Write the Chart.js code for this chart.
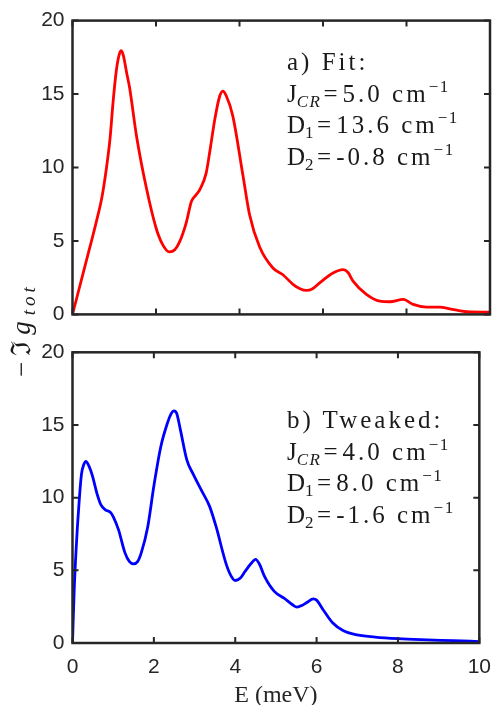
<!DOCTYPE html>
<html>
<head>
<meta charset="utf-8">
<script src="https://cdn.jsdelivr.net/npm/chart.js@4.4.1/dist/chart.umd.min.js"></script>
<style>
  body { margin: 0; background: #fff; }
  #wrap { position: relative; width: 503px; height: 705px; overflow: hidden; }
  canvas { position: absolute; left: 0; }
  #topChart { top: 0; }
  #botChart { top: 330px; }
  .note {
    position: absolute; left: 287px;
    font-family: "Liberation Serif", "Times New Roman", serif;
    font-size: 25px; line-height: 31.7px; letter-spacing: 3px;
    color: #1a1a1a; white-space: nowrap;
  }
  .note .t { letter-spacing: 0; }
  .note sub, .note sup { font-size: 17px; line-height: 0; letter-spacing: 1.5px; }
  .note sub { vertical-align: -5px; }
  .note sup { vertical-align: 10px; }
  .note .eq { margin: 0 2px; }
  #ylab {
    position: absolute; left: 7px; top: 377px;
    transform-origin: 0 0; transform: rotate(-90deg);
    font-family: "Liberation Serif", "Times New Roman", serif;
    font-size: 27px; line-height: 27px; letter-spacing: 6px;
    color: #1a1a1a; white-space: nowrap;
  }
  #ylab .im { font-family: "DejaVu Serif", serif; }
  #ylab sub { font-size: 19px; line-height: 0; vertical-align: -5px; letter-spacing: 4px; }
</style>
</head>
<body>
<div id="wrap">
  <canvas id="topChart" width="503" height="335"></canvas>
  <canvas id="botChart" width="503" height="375"></canvas>

  <div class="note" style="top:46px">
    a) Fit:<br>
    <span class="t">J</span><sub><i>CR</i></sub><span class="eq">=</span>5.0 cm<sup>−1</sup><br>
    <span class="t">D</span><sub>1</sub><span class="eq">=</span>13.6 cm<sup>−1</sup><br>
    <span class="t">D</span><sub>2</sub><span class="eq">=</span>-0.8 cm<sup>−1</sup>
  </div>
  <div class="note" style="top:404px">
    b) Tweaked:<br>
    <span class="t">J</span><sub><i>CR</i></sub><span class="eq">=</span>4.0 cm<sup>−1</sup><br>
    <span class="t">D</span><sub>1</sub><span class="eq">=</span>8.0 cm<sup>−1</sup><br>
    <span class="t">D</span><sub>2</sub><span class="eq">=</span>-1.6 cm<sup>−1</sup>
  </div>
  <div id="ylab">−<span class="im">ℑ</span><i>g</i><sub><i>tot</i></sub></div>
</div>

<script>
// energy axis (meV) and -Im g_tot
const fitE = [0, 0.3, 0.57, 0.7, 0.81, 0.9, 0.97, 1.05, 1.12, 1.17, 1.22, 1.3, 1.37, 1.53, 1.77, 2.0, 2.15,
  2.32, 2.45, 2.57, 2.72, 2.85, 2.95, 3.05, 3.2, 3.3, 3.41, 3.52, 3.6, 3.68, 3.84, 4.08, 4.24, 4.48, 4.8,
  5.04, 5.28, 5.45, 5.6, 5.75, 5.92, 6.24, 6.48, 6.6, 6.72, 7.04, 7.36, 7.6, 7.92, 8.16, 8.48, 8.8, 9.04,
  9.44, 10];
const fitG = [0, 3.3, 6.3, 7.9, 9.9, 12.0, 14.4, 16.6, 17.7, 17.95, 17.6, 16.4, 15.4, 12.2, 8.6, 5.9, 4.8,
  4.25, 4.4, 4.97, 6.2, 7.7, 8.1, 8.5, 9.6, 11.3, 13.3, 14.8, 15.2, 14.9, 13.5, 9.5, 6.8, 4.6, 3.16,
  2.7, 2.05, 1.75, 1.63, 1.75, 2.15, 2.82, 3.05, 2.85, 2.26, 1.36, 0.9, 0.86, 1.02, 0.68, 0.5, 0.5, 0.38,
  0.18, 0.15];

const tweakE = [0, 0.04, 0.09, 0.16, 0.22, 0.28, 0.33, 0.4, 0.49, 0.6, 0.7, 0.81, 0.93, 1.0, 1.13, 1.29,
  1.4, 1.5, 1.6, 1.69, 1.85, 2.0, 2.17, 2.33, 2.43, 2.49, 2.56, 2.65, 2.81, 2.97, 3.17, 3.37, 3.53, 3.77,
  3.9, 4.0, 4.12, 4.24, 4.4, 4.5, 4.6, 4.72, 4.96, 5.2, 5.4, 5.52, 5.65, 5.76, 5.92, 6.0, 6.16, 6.4,
  6.64, 6.96, 7.44, 8.0, 8.56, 9.36, 10];
const tweakG = [0, 3.5, 6.5, 9.6, 11.6, 12.3, 12.5, 12.2, 11.5, 10.3, 9.5, 9.16, 9.0, 8.7, 7.8, 6.2,
  5.6, 5.45, 5.6, 6.2, 8.0, 10.8, 13.5, 15.1, 15.8, 15.97, 15.8, 14.7, 12.6, 11.6, 10.5, 9.4, 8.0, 5.5,
  4.6, 4.3, 4.45, 4.92, 5.5, 5.75, 5.4, 4.58, 3.55, 3.09, 2.65, 2.47, 2.6, 2.79, 3.04, 2.95, 2.29, 1.37,
  0.87, 0.57, 0.41, 0.3, 0.23, 0.16, 0.1];

const xTicks = [0, 2, 4, 6, 8, 10];
const yTicks = [0, 5, 10, 15, 20];

const axisColor = '#262626';
const tickFont = { family: '"Liberation Sans", Arial, sans-serif', size: 21 };

// MATLAB style box with inward ticks on all four sides
const boxFrame = {
  id: 'boxFrame',
  afterDatasetsDraw(chart) {
    const { ctx, chartArea: a, scales: { x, y } } = chart;
    ctx.save();
    ctx.strokeStyle = axisColor;
    ctx.lineWidth = 2;
    ctx.beginPath();
    xTicks.forEach(v => {
      const px = x.getPixelForValue(v);
      ctx.moveTo(px, a.bottom); ctx.lineTo(px, a.bottom - 6);
      ctx.moveTo(px, a.top); ctx.lineTo(px, a.top + 6);
    });
    yTicks.forEach(v => {
      const py = y.getPixelForValue(v);
      ctx.moveTo(a.left, py); ctx.lineTo(a.left + 6, py);
      ctx.moveTo(a.right, py); ctx.lineTo(a.right - 6, py);
    });
    ctx.stroke();
    ctx.lineWidth = 2.5;
    ctx.strokeRect(a.left, a.top, a.right - a.left, a.bottom - a.top);
    ctx.restore();
  }
};

function makeChart(canvas, xs, ys, color, showX, padding) {
  return new Chart(canvas, {
    type: 'line',
    data: {
      datasets: [{
        data: xs.map((e, i) => ({ x: e, y: ys[i] })),
        borderColor: color,
        borderWidth: 2.8,
        pointRadius: 0,
        cubicInterpolationMode: 'monotone',
        fill: false
      }]
    },
    options: {
      responsive: false,
      animation: false,
      layout: { padding },
      plugins: { legend: { display: false }, tooltip: { enabled: false } },
      scales: {
        x: {
          type: 'linear', min: 0, max: 10,
          display: showX,
          afterBuildTicks: s => { s.ticks = xTicks.map(v => ({ value: v })); },
          afterFit: s => { s.height = showX ? 62 : 16.7; },
          grid: { display: false, drawTicks: false },
          border: { display: false },
          ticks: { color: axisColor, font: tickFont, padding: 12, maxRotation: 0 },
          title: {
            display: true, text: 'E (meV)', color: axisColor,
            font: { family: '"Liberation Serif", "Times New Roman", serif', size: 24, lineHeight: 0.7 },
            padding: { top: 0, bottom: 0.5 }
          }
        },
        y: {
          type: 'linear', min: 0, max: 20,
          afterBuildTicks: s => { s.ticks = yTicks.map(v => ({ value: v })); },
          afterFit: s => { s.width = 72.5; },
          grid: { display: false, drawTicks: false },
          border: { display: false },
          ticks: { color: axisColor, font: tickFont, padding: 8 }
        }
      }
    },
    plugins: [boxFrame]
  });
}

makeChart(document.getElementById('topChart'), fitE, fitG, '#ff0000', false,
  { top: 19.5, right: 13, bottom: 0, left: 0 });
makeChart(document.getElementById('botChart'), tweakE, tweakG, '#0000ff', true,
  { top: 22.3, right: 13, bottom: 0, left: 0 });
</script>
</body>
</html>
